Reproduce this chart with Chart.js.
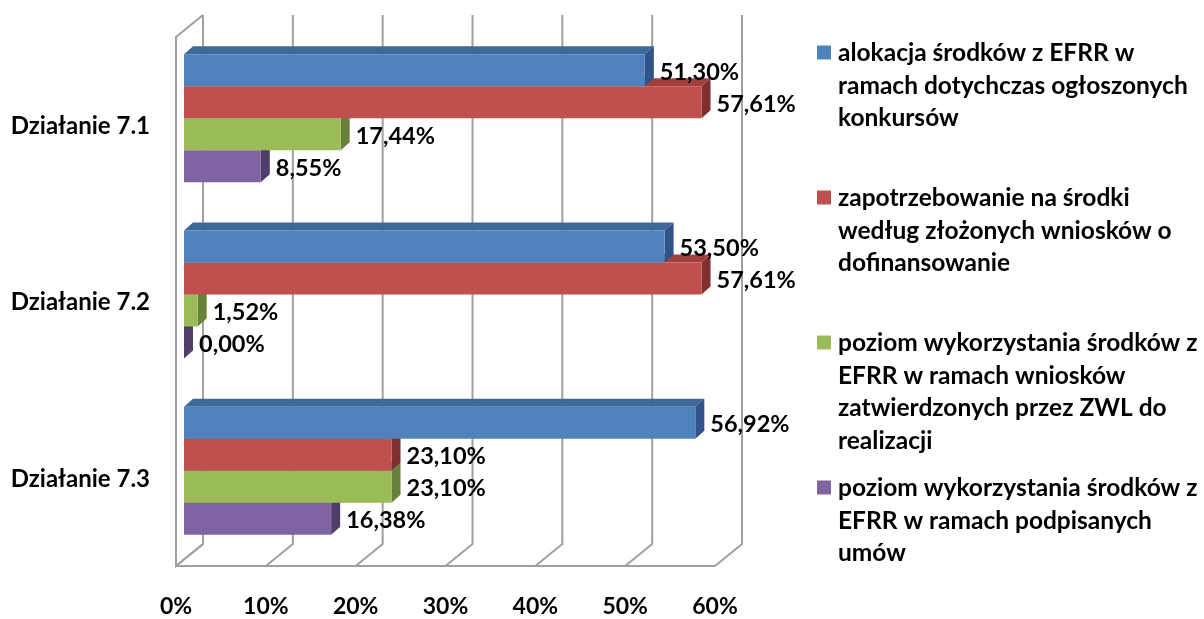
<!DOCTYPE html>
<html lang="pl">
<head>
<meta charset="utf-8">
<title>Działania 7.1–7.3 – wykorzystanie środków EFRR</title>
<script src="https://cdn.jsdelivr.net/npm/chart.js@4.4.1/dist/chart.umd.min.js"></script>
<style>
  html, body { margin: 0; padding: 0; background: #fff; }
  #wrap { width: 1204px; height: 619px; }
</style>
</head>
<body>
<div id="wrap"><canvas id="myChart" width="1204" height="619"></canvas></div>
<script>
// --- data ---
const categories = ["Działanie 7.1", "Działanie 7.2", "Działanie 7.3"];

const seriesNames = [
  "alokacja środków z EFRR w ramach dotychczas ogłoszonych konkursów",
  "zapotrzebowanie na środki według złożonych wniosków o dofinansowanie",
  "poziom wykorzystania środków z EFRR w ramach wniosków zatwierdzonych przez ZWL do realizacji",
  "poziom wykorzystania środków z EFRR w ramach podpisanych umów"
];

// legend text broken into lines the way it wraps in the side box
const legendLines = [
  ["alokacja środków z EFRR w", "ramach dotychczas ogłoszonych", "konkursów"],
  ["zapotrzebowanie na środki", "według złożonych wniosków o", "dofinansowanie"],
  ["poziom wykorzystania środków z", "EFRR w ramach wniosków", "zatwierdzonych przez ZWL do", "realizacji"],
  ["poziom wykorzystania środków z", "EFRR w ramach podpisanych", "umów"]
];

const alokacja = [51.30, 53.50, 56.92];
const zapotrzebowanie = [57.61, 57.61, 23.10];
const wnioskiZwl = [17.44, 1.52, 23.10];
const umowy = [8.55, 0.00, 16.38];

const axisMax = 60;
const axisStep = 10;

// --- styling ---
const FONT = "Lato, 'Open Sans', sans-serif";
const frontColors = ["#4F81BD", "#C0504D", "#9BBB59", "#8064A2"];
const topColors   = ["#3F6899", "#A0413E", "#7E9B46", "#685086"];
const sideColors  = ["#30538A", "#7F302E", "#67813A", "#503D6A"];
const wallColor = "#A0A0A0";

// fake 3D: bar depth and the wall planes relative to the bar plane
const BAR_DX = 9, BAR_DY = 8;
const FRONT = { dx: -8, dy: 7 };
const BACK = { dx: 19, dy: -15 };

const fmt = v => v.toFixed(2).replace(".", ",") + "%";

const walls3d = {
  id: "walls3d",
  beforeDatasetsDraw(chart) {
    const { ctx, chartArea } = chart;
    const xs = chart.scales.x;
    const top = chartArea.top, bottom = chartArea.bottom;
    ctx.save();
    ctx.strokeStyle = wallColor;
    ctx.lineWidth = 2;
    ctx.lineJoin = "miter";

    // left wall outline
    const x0 = xs.getPixelForValue(0);
    ctx.beginPath();
    ctx.moveTo(x0 + BACK.dx, bottom + BACK.dy);
    ctx.lineTo(x0 + FRONT.dx, bottom + FRONT.dy);
    ctx.lineTo(x0 + FRONT.dx, top + FRONT.dy);
    ctx.lineTo(x0 + BACK.dx, top + BACK.dy);
    ctx.stroke();

    // back wall gridlines + floor diagonals
    for (let v = 0; v <= axisMax; v += axisStep) {
      const px = xs.getPixelForValue(v);
      ctx.beginPath();
      ctx.moveTo(px + BACK.dx, top + BACK.dy);
      ctx.lineTo(px + BACK.dx, bottom + BACK.dy);
      ctx.lineTo(px + FRONT.dx, bottom + FRONT.dy);
      ctx.stroke();
    }

    // floor front edge
    ctx.beginPath();
    ctx.moveTo(x0 + FRONT.dx, bottom + FRONT.dy);
    ctx.lineTo(xs.getPixelForValue(axisMax) + FRONT.dx, bottom + FRONT.dy);
    ctx.stroke();

    // top and side faces of every bar, lowest bar of a group first
    const metas = chart.getSortedVisibleDatasetMetas();
    for (let i = 0; i < categories.length; i++) {
      for (let d = metas.length - 1; d >= 0; d--) {
        const el = metas[d].data[i];
        const { x, y, base, height } = el.getProps(["x", "y", "base", "height"], true);
        const t = y - height / 2, b = y + height / 2;
        const di = metas[d].index;

        ctx.fillStyle = topColors[di];
        ctx.beginPath();
        ctx.moveTo(base, t);
        ctx.lineTo(base + BAR_DX, t - BAR_DY);
        ctx.lineTo(x + BAR_DX, t - BAR_DY);
        ctx.lineTo(x, t);
        ctx.closePath();
        ctx.fill();

        ctx.fillStyle = sideColors[di];
        ctx.beginPath();
        ctx.moveTo(x, t);
        ctx.lineTo(x + BAR_DX, t - BAR_DY);
        ctx.lineTo(x + BAR_DX, b - BAR_DY);
        ctx.lineTo(x, b);
        ctx.closePath();
        ctx.fill();
      }
    }
    ctx.restore();
  },
  afterDatasetsDraw(chart) {
    const { ctx } = chart;
    ctx.save();
    ctx.fillStyle = "#000";
    ctx.font = "bold 23.5px " + FONT;
    ctx.textAlign = "left";
    ctx.textBaseline = "middle";
    chart.getSortedVisibleDatasetMetas().forEach(meta => {
      const values = chart.data.datasets[meta.index].data;
      meta.data.forEach((el, i) => {
        const { x, y } = el.getProps(["x", "y"], true);
        ctx.fillText(fmt(values[i]), x + 15, y + 2);
      });
    });
    ctx.restore();
  }
};

const sideLegend = {
  id: "sideLegend",
  afterDraw(chart) {
    const { ctx } = chart;
    const boxX = 817, textX = 838, box = 14;
    const firstY = 52.5, entryPitch = 145, linePitch = 32.5;
    ctx.save();
    ctx.font = "bold 24.5px " + FONT;
    ctx.textAlign = "left";
    ctx.textBaseline = "middle";
    legendLines.forEach((lines, i) => {
      const y0 = firstY + i * entryPitch;
      ctx.fillStyle = frontColors[i];
      ctx.fillRect(boxX, y0 - box / 2, box, box);
      ctx.fillStyle = "#000";
      lines.forEach((line, j) => ctx.fillText(line, textX, y0 + j * linePitch + 1));
    });
    ctx.restore();
  }
};

const series = [alokacja, zapotrzebowanie, wnioskiZwl, umowy];

new Chart(document.getElementById("myChart"), {
  type: "bar",
  data: {
    labels: categories,
    datasets: series.map((values, i) => ({
      label: seriesNames[i],
      data: values,
      backgroundColor: frontColors[i],
      borderWidth: 0,
      categoryPercentage: 0.726,
      barPercentage: 1
    }))
  },
  options: {
    indexAxis: "y",
    responsive: false,
    animation: false,
    layout: { padding: { top: 30, right: 481, bottom: 0, left: 0 } },
    plugins: {
      legend: { display: false },
      tooltip: { enabled: false }
    },
    scales: {
      x: {
        min: 0,
        max: axisMax,
        ticks: {
          stepSize: axisStep,
          callback: v => v + "%",
          labelOffset: -8,
          padding: 34,
          color: "#000",
          font: { family: FONT, size: 23, weight: "bold", lineHeight: 1.2 }
        },
        grid: { display: false, drawTicks: false },
        border: { display: false },
        afterFit: s => { s.height = 60; s.paddingLeft = 0; s.paddingRight = 0; }
      },
      y: {
        ticks: {
          labelOffset: 8,
          padding: 34,
          color: "#000",
          font: { family: FONT, size: 24, weight: "bold" }
        },
        grid: { display: false, drawTicks: false },
        border: { display: false },
        afterFit: s => { s.width = 184; s.paddingTop = 0; s.paddingBottom = 0; }
      }
    }
  },
  plugins: [walls3d, sideLegend]
});
</script>
</body>
</html>
